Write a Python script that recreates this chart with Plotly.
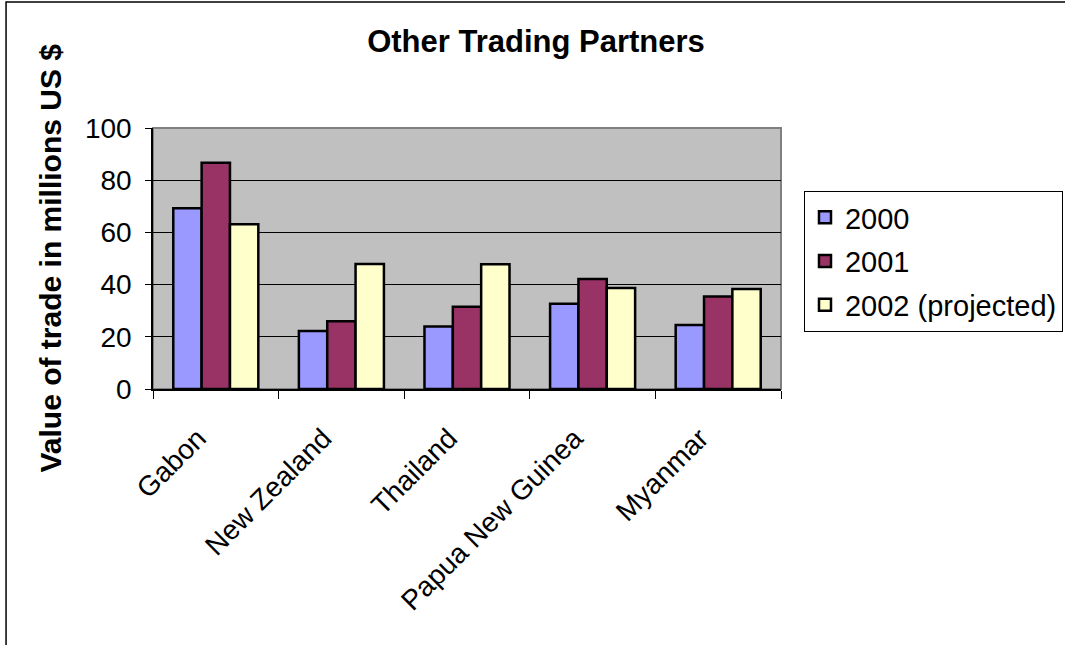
import plotly.graph_objects as go

countries = ["Gabon", "New Zealand", "Thailand", "Papua New Guinea", "Myanmar"]
trade_2000 = [69.3, 22.2, 23.9, 32.7, 24.5]
trade_2001 = [86.7, 26.0, 31.5, 42.1, 35.4]
trade_2002 = [63.1, 47.9, 47.8, 38.7, 38.3]
series_names = ["2000", "2001", "2002 (projected)"]
series_colors = ["#9999FF", "#993366", "#FFFFCC"]

FONT = "Liberation Sans, Arial, sans-serif"

fig = go.Figure()
for name, vals, col in zip(series_names, [trade_2000, trade_2001, trade_2002], series_colors):
    fig.add_trace(go.Bar(
        x=countries, y=vals, name=name, legendgroup=name,
        marker=dict(color=col, line=dict(color="black", width=2.5)),
    ))

# grey frame round the plot area
fig.add_shape(type="rect", xref="paper", yref="paper", x0=0, y0=0, x1=1, y1=1,
              line=dict(color="#808080", width=2), layer="below")
# outer chart border, only top and left edges fall inside the picture
fig.add_shape(type="rect", xref="paper", yref="paper", x0=-0.234, y0=-1.5, x1=1.6, y1=1.483,
              line=dict(color="black", width=1.5))

fig.add_annotation(text="<b>Value of trade in millions US $</b>", xref="paper", yref="paper",
                   x=-0.164, y=0.5, xanchor="center", yanchor="middle", textangle=-90,
                   showarrow=False, font=dict(family=FONT, size=30, color="black"))

fig.update_layout(
    width=1065, height=645,
    margin=dict(l=153, r=284, t=128, b=256, autoexpand=False),
    paper_bgcolor="white", plot_bgcolor="#C0C0C0",
    font=dict(family=FONT, size=28, color="black"),
    title=dict(text="<b>Other Trading Partners</b>", x=536 / 1065, xanchor="center",
               y=1 - 41 / 645, yanchor="middle", font=dict(family=FONT, size=31, color="black")),
    barmode="group", bargap=0.323, bargroupgap=0,
    legend=dict(x=1.0366, y=0.7586, xanchor="left", yanchor="top",
                bordercolor="black", borderwidth=1, bgcolor="white",
                font=dict(family=FONT, size=29), tracegroupgap=3),
    showlegend=True,
)
fig.update_xaxes(showline=True, linecolor="black", linewidth=1.5, ticks="outside",
                 tickson="boundaries", ticklen=8, tickcolor="black", tickangle=-45,
                 showgrid=False, tickfont=dict(size=28), ticklabelshift=-18,
                 ticklabelstandoff=20)
fig.update_yaxes(range=[0, 100], dtick=20, showline=True, linecolor="black", linewidth=1.5,
                 ticks="outside", ticklen=6, tickcolor="black", showgrid=True,
                 gridcolor="black", gridwidth=1, zeroline=False, ticklabelstandoff=8,
                 tickfont=dict(size=28))

# drop the default 8px body margin so the figure sits at the page corner
fig.write_html("out.html", config={"displayModeBar": False},
               post_script="document.body.style.margin='0';")
